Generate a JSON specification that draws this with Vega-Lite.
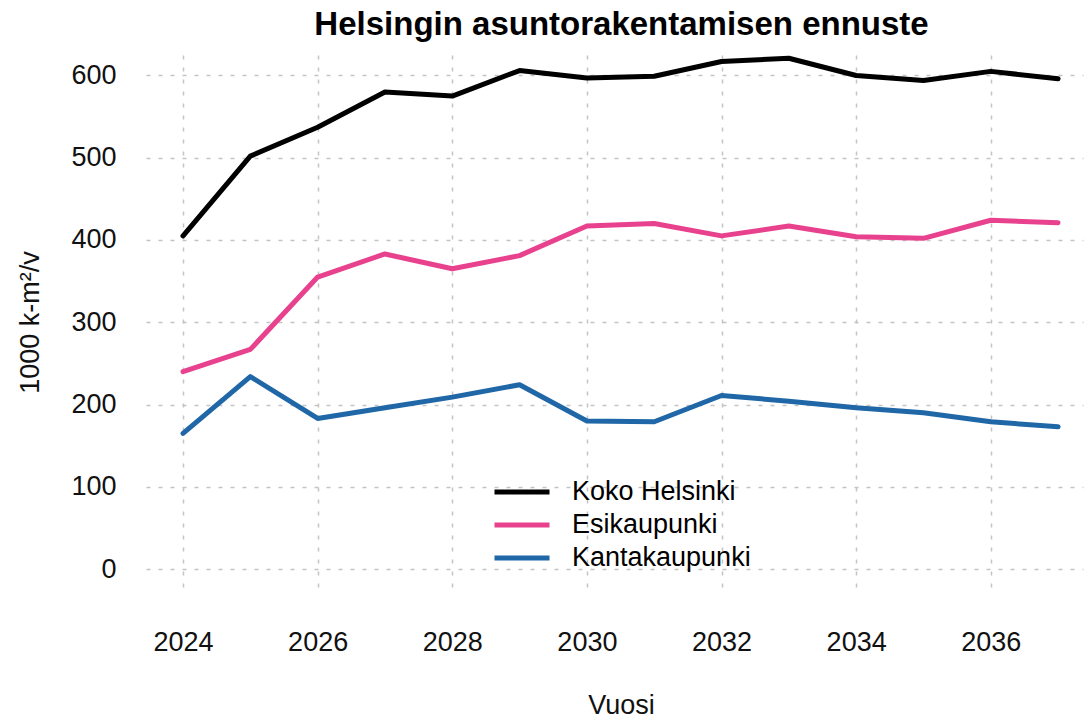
{
  "$schema": "https://vega.github.io/schema/vega-lite/v6.json",
  "width": 937,
  "height": 535,
  "autosize": {"type": "none"},
  "padding": {"left": 146, "top": 55, "right": 4, "bottom": 130},
  "background": "white",
  "title": {
    "text": "Helsingin asuntorakentamisen ennuste",
    "font": "Liberation Sans",
    "fontSize": 33,
    "fontWeight": "bold",
    "color": "#000000",
    "baseline": "alphabetic",
    "offset": 22,
    "anchor": "middle",
    "dx": 7,
    "dy": 35
  },
  "data": {
    "values": [
      {"vuosi": 2024, "alue": "Koko Helsinki", "arvo": 405},
      {"vuosi": 2025, "alue": "Koko Helsinki", "arvo": 502},
      {"vuosi": 2026, "alue": "Koko Helsinki", "arvo": 537},
      {"vuosi": 2027, "alue": "Koko Helsinki", "arvo": 580},
      {"vuosi": 2028, "alue": "Koko Helsinki", "arvo": 575},
      {"vuosi": 2029, "alue": "Koko Helsinki", "arvo": 606},
      {"vuosi": 2030, "alue": "Koko Helsinki", "arvo": 597},
      {"vuosi": 2031, "alue": "Koko Helsinki", "arvo": 599},
      {"vuosi": 2032, "alue": "Koko Helsinki", "arvo": 617},
      {"vuosi": 2033, "alue": "Koko Helsinki", "arvo": 621},
      {"vuosi": 2034, "alue": "Koko Helsinki", "arvo": 600},
      {"vuosi": 2035, "alue": "Koko Helsinki", "arvo": 594},
      {"vuosi": 2036, "alue": "Koko Helsinki", "arvo": 605},
      {"vuosi": 2037, "alue": "Koko Helsinki", "arvo": 596},
      {"vuosi": 2024, "alue": "Esikaupunki", "arvo": 240},
      {"vuosi": 2025, "alue": "Esikaupunki", "arvo": 267},
      {"vuosi": 2026, "alue": "Esikaupunki", "arvo": 355},
      {"vuosi": 2027, "alue": "Esikaupunki", "arvo": 383},
      {"vuosi": 2028, "alue": "Esikaupunki", "arvo": 365},
      {"vuosi": 2029, "alue": "Esikaupunki", "arvo": 381},
      {"vuosi": 2030, "alue": "Esikaupunki", "arvo": 417},
      {"vuosi": 2031, "alue": "Esikaupunki", "arvo": 420},
      {"vuosi": 2032, "alue": "Esikaupunki", "arvo": 405},
      {"vuosi": 2033, "alue": "Esikaupunki", "arvo": 417},
      {"vuosi": 2034, "alue": "Esikaupunki", "arvo": 404},
      {"vuosi": 2035, "alue": "Esikaupunki", "arvo": 402},
      {"vuosi": 2036, "alue": "Esikaupunki", "arvo": 424},
      {"vuosi": 2037, "alue": "Esikaupunki", "arvo": 421},
      {"vuosi": 2024, "alue": "Kantakaupunki", "arvo": 165},
      {"vuosi": 2025, "alue": "Kantakaupunki", "arvo": 234},
      {"vuosi": 2026, "alue": "Kantakaupunki", "arvo": 183},
      {"vuosi": 2027, "alue": "Kantakaupunki", "arvo": 196},
      {"vuosi": 2028, "alue": "Kantakaupunki", "arvo": 209},
      {"vuosi": 2029, "alue": "Kantakaupunki", "arvo": 224},
      {"vuosi": 2030, "alue": "Kantakaupunki", "arvo": 180},
      {"vuosi": 2031, "alue": "Kantakaupunki", "arvo": 179},
      {"vuosi": 2032, "alue": "Kantakaupunki", "arvo": 211},
      {"vuosi": 2033, "alue": "Kantakaupunki", "arvo": 204},
      {"vuosi": 2034, "alue": "Kantakaupunki", "arvo": 196},
      {"vuosi": 2035, "alue": "Kantakaupunki", "arvo": 190},
      {"vuosi": 2036, "alue": "Kantakaupunki", "arvo": 179},
      {"vuosi": 2037, "alue": "Kantakaupunki", "arvo": 173}
    ]
  },
  "mark": {"type": "line", "strokeWidth": 5, "strokeCap": "round", "strokeJoin": "round"},
  "encoding": {
    "x": {
      "field": "vuosi",
      "type": "quantitative",
      "scale": {"domain": [2023.45, 2037.37], "nice": false, "zero": false},
      "axis": {
        "values": [2024, 2026, 2028, 2030, 2032, 2034, 2036],
        "format": "d",
        "title": "Vuosi",
        "grid": true,
        "ticks": false,
        "domain": false,
        "labelPadding": 39,
        "labelFontSize": 27,
        "labelOverlap": false,
        "titleFontSize": 27,
        "titleFontWeight": "normal",
        "titleX": 475,
        "titleY": 123,
        "titleBaseline": "alphabetic",
        "titleAlign": "center"
      }
    },
    "y": {
      "field": "arvo",
      "type": "quantitative",
      "scale": {"domain": [-25.5, 624.9], "nice": false, "zero": false},
      "axis": {
        "values": [0, 100, 200, 300, 400, 500, 600],
        "format": "d",
        "title": "1000 k-m²/v",
        "grid": true,
        "ticks": false,
        "domain": false,
        "labelPadding": 30,
        "labelFontSize": 27,
        "labelBaseline": "middle",
        "labelOverlap": false,
        "titleFontSize": 27,
        "titleFontWeight": "normal",
        "titleAngle": -90,
        "titleX": -108,
        "titleY": 267,
        "titleBaseline": "alphabetic",
        "titleAlign": "center"
      }
    },
    "color": {
      "field": "alue",
      "type": "nominal",
      "scale": {
        "domain": ["Koko Helsinki", "Esikaupunki", "Kantakaupunki"],
        "range": ["#000000", "#e8428e", "#1f67a6"]
      },
      "legend": {
        "orient": "none",
        "legendX": 361,
        "legendY": 422,
        "title": null,
        "symbolType": "M-2.2,0H2.2",
        "symbolSize": 625,
        "symbolStrokeWidth": 5,
        "labelFontSize": 27,
        "labelOffset": 35,
        "labelLimit": 0,
        "labelColor": "#000000",
        "rowPadding": 5,
        "padding": 0,
        "offset": 0
      }
    }
  },
  "config": {
    "view": {"stroke": null},
    "font": "Liberation Sans",
    "axis": {
      "gridColor": "#c4c4c4",
      "gridDash": [4, 8],
      "gridWidth": 1.5,
      "labelColor": "#111111",
      "titleColor": "#111111",
      "labelFont": "Liberation Sans",
      "titleFont": "Liberation Sans"
    },
    "legend": {"labelFont": "Liberation Sans"}
  }
}
